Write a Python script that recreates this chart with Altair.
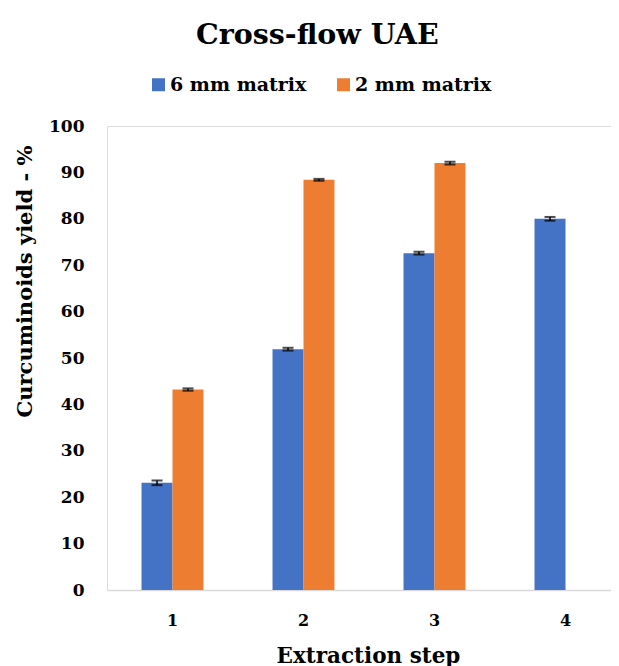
import altair as alt
import pandas as pd

steps = ["1", "2", "3", "4"]
series = ["6 mm matrix", "2 mm matrix"]
yield_6mm = [23.1, 51.9, 72.6, 80.0]
yield_2mm = [43.2, 88.4, 92.0, None]
err_6mm = [0.5, 0.3, 0.3, 0.4]
err_2mm = [0.25, 0.2, 0.3, None]
colors = ["#4472C4", "#ED7D31"]
y_ticks = [0, 10, 20, 30, 40, 50, 60, 70, 80, 90, 100]

rows = []
for s, vals, errs in [(series[0], yield_6mm, err_6mm), (series[1], yield_2mm, err_2mm)]:
    for st, v, e in zip(steps, vals, errs):
        if v is None:
            continue
        rows.append({"step": st, "series": s, "value": v, "lo": v - e, "hi": v + e})
df = pd.DataFrame(rows)

FONT = "DejaVu Serif"

x_enc = alt.X(
    "step:N",
    sort=steps,
    scale=alt.Scale(range=[0, 524], paddingInner=0.527, paddingOuter=0.2635),
    axis=alt.Axis(
        title="Extraction step",
        titleFont=FONT, titleFontSize=21.5, titleFontWeight="bold", titleColor="black",
        titleX=261, titleY=72, titleAlign="center", titleBaseline="alphabetic",
        labelFont=FONT, labelFontSize=16, labelFontWeight="bold", labelColor="black",
        labelAngle=0, labelPadding=22, labelBaseline="top",
        ticks=False, domainColor="#d9d9d9", domainWidth=1.5, grid=False,
    ),
)
xoff = alt.XOffset("series:N", sort=series,
                   scale=alt.Scale(domain=series, paddingInner=0, paddingOuter=0))

y_scale = alt.Scale(domain=[0, 100], nice=False)

bars = alt.Chart(df).mark_bar().encode(
    x=x_enc,
    xOffset=xoff,
    y=alt.Y(
        "value:Q",
        scale=y_scale,
        axis=alt.Axis(
            values=y_ticks,
            title="Curcuminoids yield - %",
            titleFont=FONT, titleFontSize=21, titleFontWeight="bold", titleColor="black",
            titleAngle=-90, titleX=-82, titleY=155, titleAlign="center", titleBaseline="middle",
            labelFont=FONT, labelFontSize=17, labelFontWeight="bold", labelColor="black",
            labelPadding=23, ticks=False, domain=False, grid=False,
        ),
    ),
    color=alt.Color(
        "series:N",
        sort=series,
        scale=alt.Scale(domain=series, range=colors),
        legend=alt.Legend(
            title=None, orient="none", direction="horizontal",
            legendX=42, legendY=-51,
            symbolType="square", symbolSize=169, symbolStrokeWidth=0,
            labelFont=FONT, labelFontSize=19, labelFontWeight="bold", labelColor="black",
            labelOffset=2, columnPadding=27,
        ),
    ),
)

err_rule = alt.Chart(df).mark_rule(color="black", strokeWidth=1.5).encode(
    x=alt.X("step:N", sort=steps), xOffset=xoff,
    y=alt.Y("lo:Q", scale=y_scale), y2="hi:Q",
)
cap_lo = alt.Chart(df).mark_tick(color="black", thickness=2, size=11).encode(
    x=alt.X("step:N", sort=steps), xOffset=xoff, y=alt.Y("lo:Q", scale=y_scale),
)
cap_hi = alt.Chart(df).mark_tick(color="black", thickness=2, size=11).encode(
    x=alt.X("step:N", sort=steps), xOffset=xoff, y=alt.Y("hi:Q", scale=y_scale),
)

chart = alt.layer(bars, err_rule, cap_lo, cap_hi).properties(
    width=504,
    height=464,
    autosize=alt.AutoSizeParams(type="none"),
    padding={"left": 99, "top": 118, "right": 0, "bottom": 76},
    title=alt.TitleParams(
        "Cross-flow UAE", font=FONT, fontSize=28.5, fontWeight="bold", color="black",
        anchor="start", frame="group", dx=89, offset=26,
    ),
).configure_view(stroke=None).configure(background="white")

chart.save("out.html", embed_options={"renderer": "svg", "actions": False})
